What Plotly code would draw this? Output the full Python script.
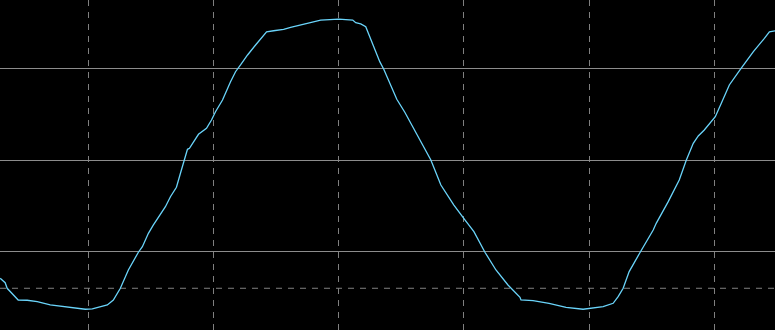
import plotly.graph_objects as go

# time in microseconds (125 us / div), voltage in mV (100 mV / div)
time_us = [-88, -83, -81, -75, -70, -61, -51, -38, -21, -3, 4, 12, 19, 25, 32, 40, 50, 54, 60, 65,
           72, 77, 82, 88, 92, 96, 99, 101, 105, 110, 118, 123, 127, 134, 142, 147, 152, 159, 167, 175,
           178, 185, 195, 202, 212, 222, 232, 250, 264, 267, 272, 277, 281, 285, 291, 295, 303, 308, 316, 322,
           342, 352, 365, 376, 385, 396, 407, 419, 425, 431, 432, 444, 460, 477, 494, 505, 514, 524, 529, 534,
           540, 551, 564, 567, 579, 590, 597, 604, 609, 615, 626, 632, 640, 651, 664, 675, 680, 687]
volt_mv = [-129.0, -133.8, -139.9, -147.2, -152.7, -153.0, -154.5, -158.1, -160.7, -162.8, -162.5, -160.0,
           -158.1, -152.7, -139.9, -119.9, -100.5, -94.4, -79.8, -70.7, -59.8, -50.7, -39.8, -29.5, -14.2,
           0.0, 12.0, 13.1, 20.3, 28.4, 35.0, 44.0, 53.1, 65.9, 85.9, 96.8, 104.2, 115.1, 126.0, 135.8,
           140.5, 141.6, 143.2, 145.4, 147.9, 150.4, 153.3, 154.4, 153.3, 150.4, 149.0, 146.0, 135.1, 126.0,
           107.8, 99.5, 78.7, 66.7, 52.5, 40.4, 0.3, -27.0, -48.9, -65.2, -78.0, -100.5, -119.9, -136.3,
           -143.6, -149.7, -152.7, -153.4, -156.3, -160.7, -162.8, -161.7, -160.0, -156.3, -149.1, -139.9,
           -121.7, -100.5, -76.2, -68.9, -45.2, -21.5, 0.0, 18.6, 26.6, 33.1, 47.7, 62.3, 82.3, 99.5,
           118.7, 133.3, 140.5, 141.6]

time_grid = [0, 125, 250, 375, 500, 625]
volt_grid = [-100, 0, 100]
trigger_level_mv = -139.9

fig = go.Figure()
fig.add_trace(go.Scatter(x=time_us, y=volt_mv, mode="lines",
                         line=dict(color="#6ad4fa", width=1.3), hoverinfo="skip"))

fig.add_shape(type="line", xref="paper", x0=0, x1=1, yref="y",
              y0=trigger_level_mv, y1=trigger_level_mv,
              line=dict(color="#808080", width=1, dash="6px,6px"), layer="below")

fig.update_layout(
    width=775, height=330,
    margin=dict(l=0, r=0, t=0, b=0),
    paper_bgcolor="black", plot_bgcolor="black",
    showlegend=False,
    xaxis=dict(range=[-88.16, 685.6], tickvals=time_grid, showticklabels=False,
               showgrid=True, gridcolor="#808080", gridwidth=1, griddash="6px,6px",
               zeroline=False, showline=False, fixedrange=True),
    yaxis=dict(range=[-185.5, 175.2], tickvals=volt_grid, showticklabels=False,
               showgrid=True, gridcolor="#8c8c8c", gridwidth=1,
               zeroline=False, showline=False, fixedrange=True),
)

fig.write_html("out.html", config={"displayModeBar": False})
